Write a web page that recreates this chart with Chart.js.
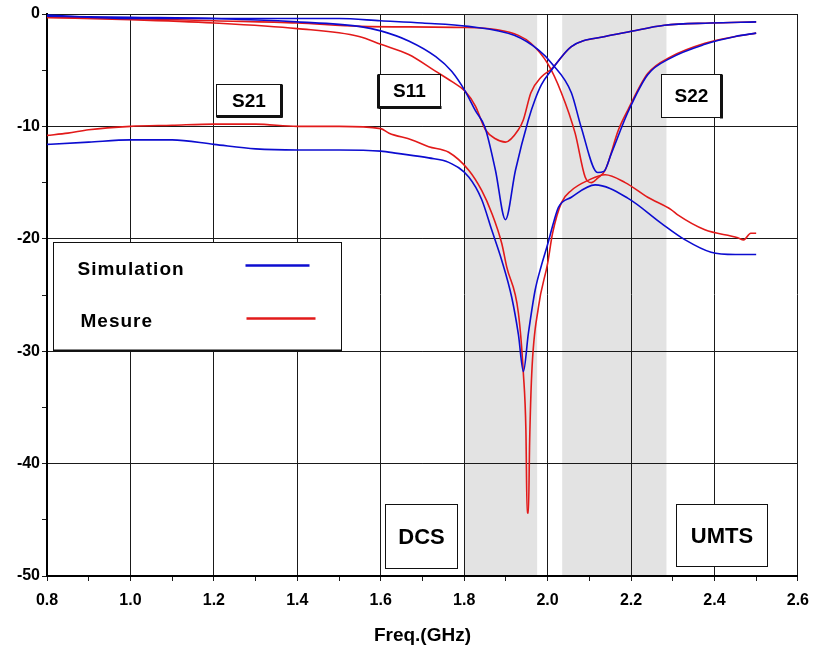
<!DOCTYPE html>
<html>
<head>
<meta charset="utf-8">
<script src="https://cdn.jsdelivr.net/npm/chart.js@4.4.1/dist/chart.umd.min.js"></script>
<style>
  body { margin: 0; background: #fff; }
  canvas { display: block; }
</style>
</head>
<body>
<canvas id="sparams" width="819" height="649"></canvas>
<script>
// data (GHz / dB)
const xTicks = [0.8, 1.0, 1.2, 1.4, 1.6, 1.8, 2.0, 2.2, 2.4, 2.6];
const yTicks = [0, -10, -20, -30, -40, -50];

const s11SimFreq = [0.8, 1.0, 1.2, 1.4, 1.548, 1.6, 1.667, 1.732, 1.77, 1.803, 1.827, 1.85, 1.875, 1.899, 1.923, 1.954, 1.97, 1.985, 2.009, 2.057, 2.138, 2.193, 2.28, 2.39, 2.5];
const s11SimDb   = [-0.2, -0.3, -0.4, -0.7, -1.1, -1.5, -2.4, -3.8, -5.1, -6.9, -8.6, -10.1, -13.9, -18.3, -13.9, -9.4, -7.6, -6.3, -5.0, -2.9, -2.0, -1.6, -1.0, -0.8, -0.7];

const s11MesFreq = [0.8, 1.0, 1.2, 1.4, 1.548, 1.6, 1.667, 1.732, 1.77, 1.803, 1.827, 1.851, 1.875, 1.899, 1.93, 1.942, 1.96, 1.985, 2.009, 2.057, 2.138, 2.193, 2.28, 2.39, 2.5];
const s11MesDb   = [-0.3, -0.5, -0.8, -1.3, -2.0, -2.7, -3.6, -5.1, -6.0, -6.9, -8.2, -10.3, -11.1, -11.4, -10.3, -9.4, -7.0, -5.6, -4.9, -2.9, -2.0, -1.6, -1.0, -0.8, -0.7];

const s22SimFreq = [0.8, 1.0, 1.5, 1.6, 1.7, 1.81, 1.92, 1.978, 2.01, 2.057, 2.08, 2.12, 2.135, 2.153, 2.193, 2.24, 2.296, 2.377, 2.45, 2.5];
const s22SimDb   = [-0.1, -0.4, -0.4, -0.6, -0.8, -1.1, -1.9, -3.2, -4.4, -7.0, -10.0, -14.1, -14.0, -12.4, -8.7, -5.4, -3.9, -2.7, -2.0, -1.7];

const s22MesFreq = [0.8, 1.0, 1.2, 1.4, 1.55, 1.8, 1.88, 1.93, 1.96, 2.0, 2.033, 2.066, 2.09, 2.105, 2.12, 2.138, 2.17, 2.193, 2.24, 2.296, 2.377, 2.45, 2.5];
const s22MesDb   = [-0.3, -0.4, -0.6, -0.8, -1.1, -1.2, -1.4, -1.9, -2.6, -4.4, -7.0, -10.6, -14.5, -15.0, -14.6, -13.9, -10.3, -8.5, -5.3, -3.8, -2.6, -2.0, -1.7];

const s21SimFreq = [0.8, 0.9, 1.0, 1.1, 1.2, 1.3, 1.4, 1.5, 1.6, 1.64, 1.715, 1.763, 1.811, 1.842, 1.866, 1.89, 1.914, 1.93, 1.942, 1.954, 1.97, 1.985, 2.0, 2.014, 2.026, 2.057, 2.114, 2.193, 2.272, 2.33, 2.392, 2.45, 2.5];
const s21SimDb   = [-11.6, -11.4, -11.2, -11.2, -11.6, -12.0, -12.1, -12.1, -12.2, -12.4, -12.8, -13.2, -14.5, -16.5, -19.2, -21.9, -25.2, -28.5, -31.8, -28.4, -24.6, -22.4, -20.5, -18.6, -17.2, -16.3, -15.2, -16.4, -18.6, -20.1, -21.2, -21.4, -21.4];

const s21MesFreq = [0.8, 0.85, 0.9, 1.0, 1.1, 1.2, 1.3, 1.4, 1.5, 1.6, 1.62, 1.675, 1.715, 1.763, 1.811, 1.842, 1.866, 1.89, 1.902, 1.93, 1.942, 1.948, 1.951, 1.954, 1.957, 1.962, 1.978, 2.0, 2.012, 2.033, 2.057, 2.097, 2.138, 2.186, 2.24, 2.296, 2.313, 2.377, 2.456, 2.47, 2.487, 2.5];
const s21MesDb   = [-10.8, -10.6, -10.3, -10.0, -9.9, -9.8, -9.8, -10.0, -10.0, -10.2, -10.6, -11.2, -11.8, -12.3, -13.9, -15.7, -17.7, -20.4, -22.5, -26.6, -32.0, -37.0, -44.4, -44.4, -38.0, -32.0, -26.1, -22.2, -19.5, -16.8, -15.7, -14.8, -14.3, -15.0, -16.3, -17.4, -17.9, -19.2, -19.9, -20.1, -19.5, -19.5];

// shaded bands (GHz)
const dcsBand = [1.8, 1.975];
const umtsBand = [2.035, 2.285];

const BLUE = '#0c0cd0';
const RED = '#e21a1a';
const FONT = "'Liberation Sans', Arial, sans-serif";

function toPoints(freq, db) {
    return freq.map((f, i) => ({ x: f, y: db[i] }));
}

function curve(freq, db, color) {
    return {
        data: toPoints(freq, db),
        borderColor: color,
        borderWidth: 1.6,
        pointRadius: 0,
        fill: false,
        cubicInterpolationMode: 'monotone'
    };
}

// label boxes in data coordinates
const boxes = [
    { text: 'S21', x0: 1.204, x1: 1.362, y0: -6.2, y1: -9.1, size: 19, thick: ['r', 'b'] },
    { text: 'S11', x0: 1.593, x1: 1.741, y0: -5.3, y1: -8.3, size: 19, thick: ['l', 'b'] },
    { text: 'S22', x0: 2.272, x1: 2.415, y0: -5.3, y1: -9.2, size: 19, thick: ['r'] },
    { text: 'DCS', x0: 1.610, x1: 1.784, y0: -43.6, y1: -49.3, size: 22, thick: [] },
    { text: 'UMTS', x0: 2.308, x1: 2.525, y0: -43.6, y1: -49.1, size: 22, thick: [] }
];
const legendBox = { x0: 0.814, x1: 1.505, y0: -20.3, y1: -29.9 };

const decor = {
    id: 'decor',
    beforeDraw(chart) {
        const { ctx, chartArea, scales } = chart;
        ctx.save();
        ctx.fillStyle = '#fff';
        ctx.fillRect(0, 0, chart.width, chart.height);
        ctx.fillStyle = '#e3e3e3';
        [dcsBand, umtsBand].forEach(b => {
            const a = scales.x.getPixelForValue(b[0]);
            const c = scales.x.getPixelForValue(b[1]);
            ctx.fillRect(a, chartArea.top, c - a, chartArea.bottom - chartArea.top);
        });
        ctx.restore();
    },
    afterDatasetsDraw(chart) {
        const { ctx, scales } = chart;
        const px = v => scales.x.getPixelForValue(v);
        const py = v => scales.y.getPixelForValue(v);
        ctx.save();
        boxes.forEach(b => {
            const l = Math.round(px(b.x0)) + 0.5, r = Math.round(px(b.x1)) + 0.5;
            const t = Math.round(py(b.y0)) + 0.5, btm = Math.round(py(b.y1)) + 0.5;
            ctx.fillStyle = '#fff';
            ctx.fillRect(l, t, r - l, btm - t);
            ctx.strokeStyle = '#111';
            ctx.lineWidth = 1;
            ctx.strokeRect(l, t, r - l, btm - t);
            ctx.lineWidth = 3;
            ctx.beginPath();
            if (b.thick.includes('r')) { ctx.moveTo(r, t); ctx.lineTo(r, btm + 1); }
            if (b.thick.includes('l')) { ctx.moveTo(l, t); ctx.lineTo(l, btm + 1); }
            if (b.thick.includes('b')) { ctx.moveTo(l, btm); ctx.lineTo(r + 1, btm); }
            ctx.stroke();
            ctx.fillStyle = '#000';
            ctx.font = `bold ${b.size}px ${FONT}`;
            ctx.textAlign = 'center';
            ctx.textBaseline = 'middle';
            ctx.fillText(b.text, (l + r) / 2, (t + btm) / 2 + 1);
        });

        // legend
        const l = Math.round(px(legendBox.x0)) + 0.5, r = Math.round(px(legendBox.x1)) + 0.5;
        const t = Math.round(py(legendBox.y0)) + 0.5, btm = Math.round(py(legendBox.y1)) + 0.5;
        ctx.fillStyle = '#fff';
        ctx.fillRect(l, t, r - l, btm - t);
        ctx.strokeStyle = '#111';
        ctx.lineWidth = 1;
        ctx.strokeRect(l, t, r - l, btm - t);
        ctx.lineWidth = 2;
        ctx.beginPath();
        ctx.moveTo(l, btm); ctx.lineTo(r, btm);
        ctx.stroke();

        ctx.fillStyle = '#000';
        ctx.font = `bold 19px ${FONT}`;
        ctx.textAlign = 'left';
        ctx.textBaseline = 'alphabetic';
        if ('letterSpacing' in ctx) ctx.letterSpacing = '1px';
        ctx.fillText('Simulation', l + 24, t + 32);
        ctx.fillText('Mesure', l + 27, t + 84);
        if ('letterSpacing' in ctx) ctx.letterSpacing = '0px';

        ctx.lineWidth = 2.5;
        ctx.strokeStyle = BLUE;
        ctx.beginPath();
        ctx.moveTo(l + 192, t + 23); ctx.lineTo(l + 256, t + 23);
        ctx.stroke();
        ctx.strokeStyle = RED;
        ctx.beginPath();
        ctx.moveTo(l + 193, t + 76); ctx.lineTo(l + 262, t + 76);
        ctx.stroke();
        ctx.restore();
    }
};

const gridDark = '#1a1a1a';

new Chart(document.getElementById('sparams'), {
    type: 'line',
    data: {
        datasets: [
            curve(s21SimFreq, s21SimDb, BLUE),
            curve(s11SimFreq, s11SimDb, BLUE),
            curve(s22SimFreq, s22SimDb, BLUE),
            curve(s21MesFreq, s21MesDb, RED),
            curve(s11MesFreq, s11MesDb, RED),
            curve(s22MesFreq, s22MesDb, RED)
        ]
    },
    options: {
        responsive: false,
        animation: false,
        layout: { padding: { top: 14, right: 18, left: 0, bottom: 0 } },
        plugins: {
            legend: { display: false },
            tooltip: { enabled: false }
        },
        scales: {
            x: {
                type: 'linear',
                min: xTicks[0],
                max: xTicks[xTicks.length - 1],
                afterFit(scale) { scale.height = 73; },
                ticks: {
                    stepSize: 0.1,
                    autoSkip: false,
                    maxRotation: 0,
                    padding: 10,
                    color: '#000',
                    font: { family: FONT, size: 16, weight: 'bold' },
                    callback: v => {
                        const k = Math.round(v * 10);
                        return k % 2 === 0 ? (k / 10).toFixed(1) : '';
                    }
                },
                grid: {
                    color: c => (c.tick && Math.round(c.tick.value * 10) % 2 === 0) ? gridDark : 'rgba(0,0,0,0)',
                    tickColor: gridDark,
                    tickLength: 5,
                    lineWidth: 1
                },
                border: { color: '#000', width: 2 },
                title: {
                    display: true,
                    text: 'Freq.(GHz)',
                    color: '#000',
                    font: { family: FONT, size: 19, weight: 'bold' },
                    padding: { top: 0, bottom: 2 }
                }
            },
            y: {
                min: yTicks[yTicks.length - 1],
                max: yTicks[0],
                afterFit(scale) { scale.width = 47; },
                ticks: {
                    stepSize: 5,
                    padding: 2,
                    color: '#000',
                    font: { family: FONT, size: 16, weight: 'bold' },
                    callback: v => (Math.round(v) % 10 === 0 ? String(v) : '')
                },
                grid: {
                    color: c => (c.tick && Math.round(c.tick.value) % 10 === 0) ? gridDark : 'rgba(0,0,0,0)',
                    tickColor: gridDark,
                    tickLength: 5,
                    lineWidth: 1
                },
                border: { color: '#000', width: 2 }
            }
        }
    },
    plugins: [decor]
});
</script>
</body>
</html>
